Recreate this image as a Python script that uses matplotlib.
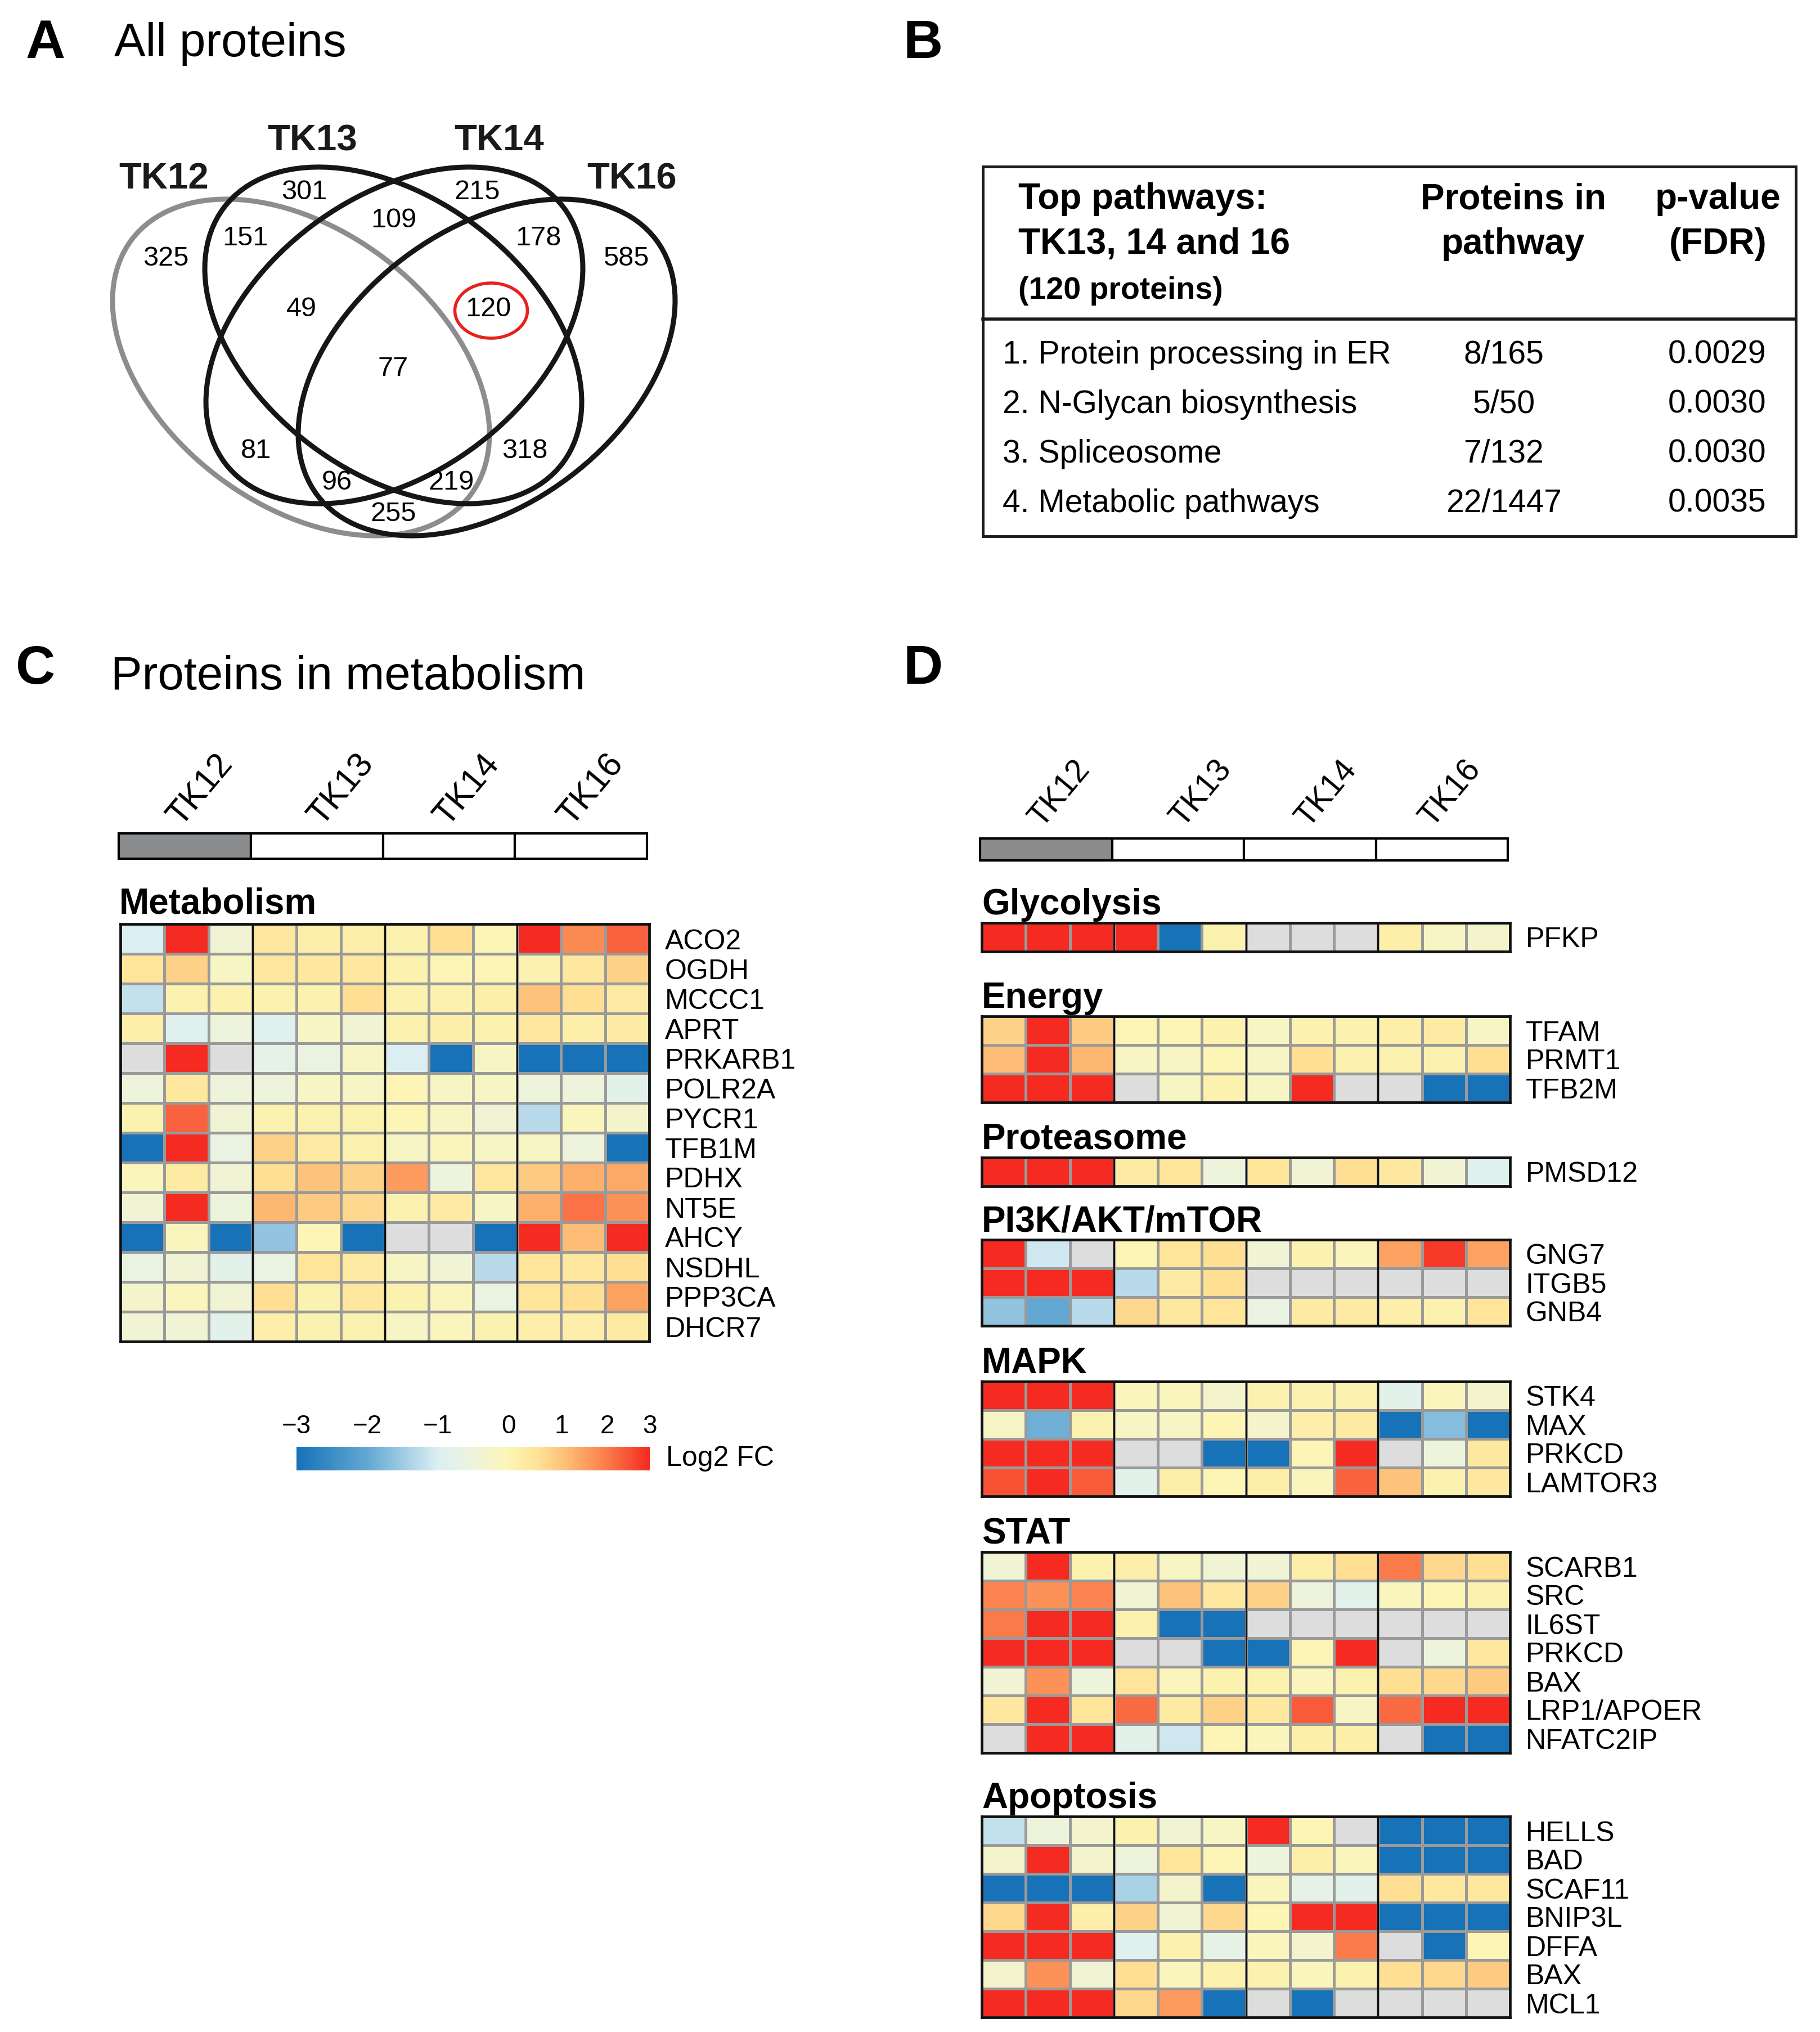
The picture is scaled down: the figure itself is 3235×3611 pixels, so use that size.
import numpy as np

import matplotlib
matplotlib.use('Agg')
from matplotlib import pyplot as plt
from matplotlib.colors import LinearSegmentedColormap, FuncNorm
from matplotlib.patches import Ellipse, Rectangle
from matplotlib.cm import ScalarMappable

plt.rcParams['font.family'] = ['Liberation Sans', 'DejaVu Sans']

W, H = 3235, 3611
DPI = 100
nan = np.nan

# ---------------- data ----------------
groups = ['TK12', 'TK13', 'TK14', 'TK16']
group_fill = ['#8a8c8e', 'white', 'white', 'white']

# venn regions: A=TK12, B=TK13, C=TK14, D=TK16
venn_regions = ['A', 'B', 'C', 'D', 'AB', 'BC', 'CD', 'ABC', 'BCD', 'ABCD',
                'AC', 'BD', 'ACD', 'ABD', 'AD']
venn_counts = [325, 301, 215, 585, 151, 109, 178, 49, 120, 77, 81, 318, 96, 219, 255]
venn_highlight = 'BCD'

pathways = ['1. Protein processing in ER', '2. N-Glycan biosynthesis',
            '3. Spliceosome', '4. Metabolic pathways']
pathway_hits = ['8/165', '5/50', '7/132', '22/1447']
pathway_fdr = ['0.0029', '0.0030', '0.0030', '0.0035']

cb_ticks = [-3, -2, -1, 0, 1, 2, 3]
cb_pos = [0.0, 0.2, 0.4, 0.6, 0.75, 0.88, 1.0]

metab_genes = ['ACO2', 'OGDH', 'MCCC1', 'APRT', 'PRKARB1', 'POLR2A', 'PYCR1',
               'TFB1M', 'PDHX', 'NT5E', 'AHCY', 'NSDHL', 'PPP3CA', 'DHCR7']
metab_fc = [
    [-1.0, 3.0, -0.4, 0.4, 0.2, 0.2, 0.1, 0.6, 0.0, 3.0, 1.8, 2.3],
    [0.5, 0.8, -0.2, 0.4, 0.4, 0.4, 0.1, 0.0, 0.0, 0.1, 0.4, 0.8],
    [-1.2, 0.1, 0.1, 0.1, 0.1, 0.6, 0.1, 0.1, 0.2, 1.0, 0.6, 0.3],
    [0.2, -0.9, -0.5, -0.9, -0.2, -0.4, 0.1, 0.2, 0.1, 0.4, 0.2, 0.3],
    [nan, 3.0, nan, -0.7, -0.6, -0.2, -1.0, -3.0, -0.2, -3.0, -3.0, -3.0],
    [-0.5, 0.4, -0.5, -0.5, -0.2, -0.2, 0.0, -0.2, -0.2, -0.5, -0.5, -0.8],
    [0.1, 2.3, -0.4, 0.1, 0.1, 0.1, 0.0, -0.2, -0.4, -1.3, -0.1, -0.3],
    [-3.0, 3.0, -0.6, 0.8, 0.3, 0.1, -0.2, -0.1, -0.2, -0.2, -0.5, -3.0],
    [-0.1, 0.3, -0.4, 0.6, 1.0, 0.8, 1.6, -0.5, 0.4, 0.9, 1.3, 1.4],
    [-0.4, 3.0, -0.5, 1.2, 0.9, 0.7, 0.1, 0.3, -0.2, 1.3, 2.1, 1.7],
    [-3.0, -0.1, -3.0, -1.6, 0.0, -3.0, nan, nan, -3.0, 3.0, 1.1, 3.0],
    [-0.6, -0.4, -0.8, -0.6, 0.5, 0.3, -0.2, -0.4, -1.3, 0.5, 0.4, 0.6],
    [-0.3, -0.1, -0.4, 0.6, 0.1, 0.4, 0.1, -0.1, -0.6, 0.5, 0.6, 1.5],
    [-0.4, -0.4, -0.8, 0.2, 0.1, 0.1, -0.2, -0.1, 0.1, 0.2, 0.2, 0.3],
]

path_names = ['Glycolysis', 'Energy', 'Proteasome', 'PI3K/AKT/mTOR', 'MAPK', 'STAT', 'Apoptosis']
path_genes = [
    ['PFKP'],
    ['TFAM', 'PRMT1', 'TFB2M'],
    ['PMSD12'],
    ['GNG7', 'ITGB5', 'GNB4'],
    ['STK4', 'MAX', 'PRKCD', 'LAMTOR3'],
    ['SCARB1', 'SRC', 'IL6ST', 'PRKCD', 'BAX', 'LRP1/APOER', 'NFATC2IP'],
    ['HELLS', 'BAD', 'SCAF11', 'BNIP3L', 'DFFA', 'BAX', 'MCL1'],
]
path_fc = [
    [[3, 3, 3, 3, -3, 0.1, nan, nan, nan, 0.2, -0.2, -0.3]],
    [[0.8, 3, 0.9, 0.0, 0.0, 0.1, -0.2, 0.1, 0.1, 0.2, 0.3, -0.2],
     [1.1, 3, 1.2, -0.2, -0.2, 0.0, -0.2, 0.6, 0.1, 0.1, 0.1, 0.6],
     [3, 3, 3, nan, -0.2, 0.1, -0.2, 3, nan, nan, -3, -3]],
    [[3, 3, 3, 0.3, 0.5, -0.5, 0.5, -0.4, 0.6, 0.4, -0.4, -0.9]],
    [[3, -1.1, nan, 0.0, 0.5, 0.6, -0.4, 0.1, -0.1, 1.5, 2.8, 1.5],
     [3, 3, 3, -1.3, 0.3, 0.6, nan, nan, nan, nan, nan, nan],
     [-1.6, -2.0, -1.3, 0.7, 0.4, 0.5, -0.6, 0.3, 0.3, 0.2, 0.1, 0.5]],
    [[3, 3, 3, -0.1, -0.1, -0.3, 0.1, 0.1, 0.1, -0.8, -0.1, -0.3],
     [-0.2, -1.9, 0.1, -0.2, -0.2, 0.0, -0.3, 0.2, 0.3, -3, -1.7, -3],
     [3, 3, 3, nan, nan, -3, -3, 0.0, 3, nan, -0.5, 0.4],
     [2.5, 3, 2.4, -0.8, 0.2, 0.0, 0.2, -0.1, 2.3, 1.0, 0.1, 0.4]],
    [[-0.4, 3, 0.1, 0.2, -0.2, -0.4, -0.4, 0.2, 0.6, 2.0, 0.7, 0.6],
     [1.9, 1.7, 1.9, -0.4, 1.0, 0.4, 0.8, -0.5, -0.8, -0.1, 0.0, 0.1],
     [2.0, 3, 3, 0.1, -3, -3, nan, nan, nan, nan, nan, nan],
     [3, 3, 3, nan, nan, -3, -3, 0.0, 3, nan, -0.5, 0.4],
     [-0.4, 1.7, -0.5, 0.5, -0.1, 0.1, 0.1, -0.1, 0.1, 0.6, 0.7, 0.9],
     [0.4, 3, 0.5, 2.2, 0.3, 0.8, 0.4, 2.4, -0.2, 2.2, 3, 3],
     [nan, 3, 3, -0.8, -1.1, 0.0, -0.1, 0.2, 0.2, nan, -3, -3]],
    [[-1.2, -0.5, -0.3, 0.1, -0.4, -0.2, 3, 0.0, nan, -3, -3, -3],
     [-0.3, 3, -0.3, -0.5, 0.5, 0.0, -0.5, 0.2, -0.1, -3, -3, -3],
     [-3, -3, -3, -1.4, -0.3, -3, -0.1, -0.7, -0.8, 0.6, 0.4, 0.4],
     [0.7, 3, 0.2, 0.8, -0.4, 0.7, 0.0, 3, 3, -3, -3, -3],
     [3, 3, 3, -0.9, 0.1, -0.7, -0.1, -0.3, 2.0, nan, -3, 0.0],
     [-0.3, 1.7, -0.4, 0.6, -0.1, 0.1, 0.1, -0.1, 0.1, 0.6, 0.7, 0.9],
     [3, 3, 3, 0.7, 1.6, -3, nan, -3, nan, nan, nan, nan]],
]

# ---------------- colour scale ----------------
cmap = LinearSegmentedColormap.from_list('fc', [
    (0.0, '#1772b8'), (0.2, '#63a8d3'), (0.4, '#dbeff3'), (0.5, '#eef4dc'),
    (0.6, '#fcf5b5'), (0.675, '#fee59a'), (0.75, '#fdc57c'), (0.815, '#fca261'),
    (0.88, '#fb7c4b'), (1.0, '#f52a20')])
cmap.set_bad('#dcdddc')
norm = FuncNorm((lambda v: np.interp(v, cb_ticks, cb_pos),
                 lambda p: np.interp(p, cb_pos, cb_ticks)), vmin=-3, vmax=3)

fig = plt.figure(figsize=(W / DPI, H / DPI), dpi=DPI)


def add_px(x0, y0, x1, y1):
    return fig.add_axes([x0 / W, 1 - y1 / H, (x1 - x0) / W, (y1 - y0) / H])


bg = add_px(0, 0, W, H)
bg.set_xlim(0, W)
bg.set_ylim(H, 0)
bg.axis('off')

# panel letters and titles
for letter, x, y in [('A', 46, 78), ('B', 1606, 78), ('C', 28, 1190), ('D', 1606, 1190)]:
    bg.text(x, y, letter, fontsize=70, fontweight='bold', va='center', ha='left')
bg.text(203, 78, 'All proteins', fontsize=60, va='center')
bg.text(197, 1203, 'Proteins in metabolism', fontsize=60, va='center')

# ---------------- A: venn ----------------
ell_center = [(535, 653), (699, 596), (701, 596), (865, 653)]
ell_angle = [37, 37, -37, -37]
ell_color = ['#8b8e91', '#161616', '#161616', '#161616']
for c, a, col in zip(ell_center, ell_angle, ell_color):
    bg.add_patch(Ellipse(c, 754, 488, angle=a, fill=False, ec=col, lw=6.5))

set_label_xy = [(291, 318), (555, 250), (887, 250), (1123, 318)]
for name, (x, y) in zip(groups, set_label_xy):
    bg.text(x, y, name, fontsize=47, fontweight='bold', ha='center', va='center',
            color='#1a1a1a')

region_xy = [(295, 459), (541, 341), (848, 341), (1113, 459), (436, 423),
             (700, 392), (957, 423), (536, 550), (868, 550), (699, 656),
             (455, 801), (933, 801), (599, 857), (802, 857), (699, 913)]
for reg, n, (x, y) in zip(venn_regions, venn_counts, region_xy):
    bg.text(x, y, str(n), fontsize=35, ha='center', va='center')
    if reg == venn_highlight:
        bg.add_patch(Ellipse((x + 5, y + 2), 129, 98, fill=False, ec='#e8211e', lw=4))

# ---------------- B: table ----------------
bg.add_patch(Rectangle((1747, 296), 1445, 657, fill=False, ec='#1a1a1a', lw=3.5))
bg.plot([1747, 3192], [567, 567], color='#1a1a1a', lw=4)
hdr = dict(fontsize=46, fontweight='bold', va='center')
bg.text(1810, 354, 'Top pathways:', ha='left', **hdr)
bg.text(1810, 434, 'TK13, 14 and 16', ha='left', **hdr)
bg.text(1810, 517, '(120 proteins)', ha='left', fontsize=40, fontweight='bold', va='center')
bg.text(2690, 354, 'Proteins in', ha='center', **hdr)
bg.text(2690, 434, 'pathway', ha='center', **hdr)
bg.text(3054, 354, 'p-value', ha='center', **hdr)
bg.text(3054, 434, '(FDR)', ha='center', **hdr)
for i, (p, h, f) in enumerate(zip(pathways, pathway_hits, pathway_fdr)):
    y = 631 + i * 88
    bg.text(1782, y, p, fontsize=41, va='center', ha='left')
    bg.text(2673, y, h, fontsize=41, va='center', ha='center')
    bg.text(3052, y, f, fontsize=41, va='center', ha='center')

# ---------------- group header bars ----------------
label_off = [0.47, 0.54, 0.49, 0.43]


def group_bar(x0, y0, x1, y1, label_y, fs):
    ax = add_px(x0, y0, x1, y1)
    ax.bar(np.arange(4) + 0.5, 1, width=1, color=group_fill, edgecolor='black',
           linewidth=3, clip_on=False)
    ax.set_xlim(0, 4)
    ax.set_ylim(0, 1)
    ax.axis('off')
    w = (x1 - x0) / 4
    for i, name in enumerate(groups):
        bg.text(x0 + (i + label_off[i]) * w, label_y, name, fontsize=fs, rotation=50,
                rotation_mode='anchor', ha='left', va='baseline')


def heat(x0, y0, x1, y1, values, genes):
    ax = add_px(x0, y0, x1, y1)
    v = np.array(values, dtype=float)
    ax.pcolormesh(v, cmap=cmap, norm=norm, edgecolors='#9a9a9a', linewidth=3.6)
    ax.set_xlim(0, v.shape[1])
    ax.set_ylim(v.shape[0], 0)
    for g in (3, 6, 9):
        ax.axvline(g, color='#111111', lw=2.2)
    ax.set_xticks([])
    ax.yaxis.tick_right()
    ax.set_yticks(np.arange(len(genes)) + 0.5, genes, fontsize=36)
    ax.tick_params(axis='y', length=0, pad=20)
    for s in ax.spines.values():
        s.set_linewidth(3.4)
        s.set_color('#111111')
    return ax


# ---------------- C ----------------
group_bar(211, 1481, 1150, 1526, 1470, 44)
bg.text(212, 1623, 'Metabolism', fontsize=46, fontweight='bold', ha='left', va='baseline')
heat(214, 1642, 1154, 2384, metab_fc, metab_genes)

cax = add_px(527, 2571, 1155, 2613)
cb = fig.colorbar(ScalarMappable(norm=norm, cmap=cmap), cax=cax, orientation='horizontal')
cb.set_ticks(cb_ticks, labels=[str(t).replace('-', '\u2212') for t in cb_ticks])
cb.ax.xaxis.set_ticks_position('top')
cb.ax.tick_params(length=0, labelsize=33, pad=10)
cb.ax.minorticks_off()
cb.outline.set_visible(False)
bg.text(1184, 2592, 'Log2 FC', fontsize=36, va='center', ha='left')

# ---------------- D ----------------
group_bar(1742, 1490, 2680, 1529, 1472, 41)
tops = [1640, 1806, 2057, 2203, 2455, 2758, 3228]
row_h = 51
for name, genes, vals, top in zip(path_names, path_genes, path_fc, tops):
    bg.text(1745, top - 15, name, fontsize=46, fontweight='bold', ha='left', va='baseline')
    heat(1745, top, 2684, top + row_h * len(genes), vals, genes)

fig.savefig('out.png', dpi=DPI, facecolor='white')
